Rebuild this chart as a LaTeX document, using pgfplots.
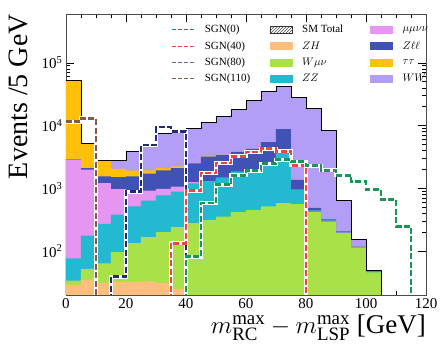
\documentclass[border=0pt]{standalone}
\usepackage{fontspec}
\setmainfont{Liberation Serif}
\usepackage{pgfplots}
\pgfplotsset{compat=1.18}
\usepackage{pgfplotstable}
\usetikzlibrary{patterns,calc}

\definecolor{cZH}{RGB}{255,190,125}
\definecolor{cW}{RGB}{168,226,72}
\definecolor{cZZ}{RGB}{35,185,208}
\definecolor{cMM}{RGB}{228,150,240}
\definecolor{cZL}{RGB}{64,82,182}
\definecolor{cTT}{RGB}{255,192,10}
\definecolor{cWW}{RGB}{178,158,245}
\definecolor{cS0}{RGB}{25,150,85}
\definecolor{cS40}{RGB}{245,65,65}
\definecolor{cS80}{RGB}{35,40,125}
\definecolor{cS110}{RGB}{130,90,72}

\newcommand{\la}[1]{\makebox[63pt][l]{#1}}
\newcommand{\lb}[1]{\makebox[66pt][l]{#1}}

% cumulative stacks (bottom to top): ZH, W, ZZ, mumununu, Zll, tautau, WW(=total)
\pgfplotstableread{
x   zh  w    zz    mm    zl    tt     tot
0   29  34   77    2860  2900  52000  52000
5   35  52   176   1980  2100  5200   5200
10  31  64   272   1215  1550  2740   2780
15  32  96   380   975   1510  2040   2790
20  32  134  515   915   1550  1910   3870
25  33  167  640   920   1710  1930   5140
30  31  200  770   985   1930  2110   7400
35  25  241  890   1070  2110  2240   8100
40  1   280  1200  1260  2500  2530   9150
45  1   316  1260  1290  3210  3240   11400
50  1   356  1460  1480  3400  3420   13900
55  1   418  1820  1840  3800  3800   17900
60  1   456  1980  2000  4270  4270   25100
65  1   515  2530  2550  5450  5450   35000
70  1   583  3700  3720  8800  8800   42000
75  1   563  950   955   1370  1370   28500
80  1   420  440   442   490   490    18600
85  1   295  305   306   320   320    8300
90  1   194  198   199   206   206    650
95  1   114  116   117   118   118    155
100 1   46   47    47    49    49     50
105 1   1    1     1     1     1      1
}\bkg

\pgfplotstableread{
x y
40 1
40 82
45 583
50 1140
55 1620
60 1910
65 2470
70 2860
75 2650
80 2290
85 1950
90 1620
95 1290
100 950
105 658
110 250
115 1
}\sgnA

\pgfplotstableread{
x y
35 1
35 134
40 915
45 1760
50 2530
55 3240
60 3800
65 4270
70 3900
75 2320
80 1
}\sgnB

\pgfplotstableread{
x y
15 1
15 39
20 890
25 4900
30 9500
35 8100
40 1
}\sgnC

\pgfplotstableread{
x y
0 11500
5 13000
10 1
}\sgnD

\begin{document}
\begin{tikzpicture}
\begin{axis}[
  scale only axis, width=360pt, height=281pt,
  xmin=0, xmax=120, ymode=log, ymin=20, ymax=6e5,
  xtick={0,20,...,120}, minor x tick num=3,
  ytick={100,1000,10000,100000},
  yticklabels={10\textsuperscript{2},10\textsuperscript{3},10\textsuperscript{4},10\textsuperscript{5}},
  xtick pos=both, ytick pos=both, tick align=inside,
  major tick length=8pt, minor tick length=4pt,
  tick style={black, line width=0.6pt},
  axis line style={black!70, line width=0.8pt},
  tick label style={font=\fontsize{15}{15}\selectfont},
  xticklabel style={/pgf/number format/assume math mode=true},
  xlabel={\fontsize{27}{30}\selectfont $m_{\mathrm{RC}}^{\mathrm{max}}-m_{\mathrm{LSP}}^{\mathrm{max}}$ [GeV]},
  xlabel style={at={(axis description cs:1,0)}, anchor=north east, yshift=-20pt, inner sep=0pt},
  ylabel={\fontsize{28}{30}\selectfont Events /5 GeV},
  ylabel style={at={(axis description cs:-0.105,1)}, anchor=south east, rotate=0, inner sep=0pt},
  legend columns=3,
  legend cell align=left,
  legend style={at={(rel axis cs:0.285,0.975)}, anchor=north west, draw=none, fill=none,
    font=\fontsize{11}{13}\selectfont, row sep=3.2pt,
    /tikz/every odd column/.append style={column sep=8pt},
    /tikz/every even column/.append style={column sep=0pt}},
]
% stacked histogram (drawn as cumulative layers)
\addplot[forget plot, ybar interval, fill=cWW, draw=none] table[x=x,y=tot]{\bkg};
\addplot[forget plot, ybar interval, fill=cTT, draw=none] table[x=x,y=tt]{\bkg};
\addplot[forget plot, ybar interval, fill=cZL, draw=none] table[x=x,y=zl]{\bkg};
\addplot[forget plot, ybar interval, fill=cMM, draw=none] table[x=x,y=mm]{\bkg};
\addplot[forget plot, ybar interval, fill=cZZ, draw=none] table[x=x,y=zz]{\bkg};
\addplot[forget plot, ybar interval, fill=cW, draw=none] table[x=x,y=w]{\bkg};
\addplot[forget plot, ybar interval, fill=cZH, draw=none] table[x=x,y=zh]{\bkg};
% SM total outline
\addplot[forget plot, const plot, black, line width=0.9pt] table[x=x,y=tot]{\bkg};
% signals
\addplot[forget plot, const plot, white, line width=4pt] table{\sgnD};
\addplot[forget plot, const plot, cS110, line width=2.8pt, dash pattern=on 6pt off 2.5pt] table{\sgnD};
\addplot[forget plot, const plot, white, line width=4pt] table{\sgnC};
\addplot[forget plot, const plot, cS80, line width=2.8pt, dash pattern=on 6pt off 2.5pt] table{\sgnC};
\addplot[forget plot, const plot, white, line width=4pt] table{\sgnB};
\addplot[forget plot, const plot, cS40, line width=2.8pt, dash pattern=on 6pt off 2.5pt] table{\sgnB};
\addplot[forget plot, const plot, white, line width=4pt] table{\sgnA};
\addplot[forget plot, const plot, cS0, line width=2.8pt, dash pattern=on 6pt off 2.5pt] table{\sgnA};

% legend (row-major order)
\addlegendimage{legend image code/.code={\draw[cS0,line width=1pt,dash pattern=on 4pt off 2pt] (0pt,0pt) -- (22pt,0pt);}}
\addlegendentry{\la{SGN(0)}}
\addlegendimage{legend image code/.code={\draw[black!80,pattern=north east lines,pattern color=black!70] (0pt,-3.5pt) rectangle (22pt,3.5pt);}}
\addlegendentry{\lb{SM Total}}
\addlegendimage{legend image code/.code={\fill[cMM] (0pt,-3.5pt) rectangle (22pt,3.5pt);}}
\addlegendentry{$\mu\mu\nu\nu$}
\addlegendimage{legend image code/.code={\draw[cS40,line width=1pt,dash pattern=on 4pt off 2pt] (0pt,0pt) -- (22pt,0pt);}}
\addlegendentry{\la{SGN(40)}}
\addlegendimage{legend image code/.code={\fill[cZH] (0pt,-3.5pt) rectangle (22pt,3.5pt);}}
\addlegendentry{\lb{$ZH$}}
\addlegendimage{legend image code/.code={\fill[cZL] (0pt,-3.5pt) rectangle (22pt,3.5pt);}}
\addlegendentry{$Z\ell\ell$}
\addlegendimage{legend image code/.code={\draw[cS80!70!white,line width=1pt,dash pattern=on 4pt off 2pt] (0pt,0pt) -- (22pt,0pt);}}
\addlegendentry{\la{SGN(80)}}
\addlegendimage{legend image code/.code={\fill[cW] (0pt,-3.5pt) rectangle (22pt,3.5pt);}}
\addlegendentry{\lb{$W\mu\nu$}}
\addlegendimage{legend image code/.code={\fill[cTT] (0pt,-3.5pt) rectangle (22pt,3.5pt);}}
\addlegendentry{$\tau\tau$}
\addlegendimage{legend image code/.code={\draw[cS110,line width=1pt,dash pattern=on 4pt off 2pt] (0pt,0pt) -- (22pt,0pt);}}
\addlegendentry{\la{SGN(110)}}
\addlegendimage{legend image code/.code={\fill[cZZ] (0pt,-3.5pt) rectangle (22pt,3.5pt);}}
\addlegendentry{\lb{$ZZ$}}
\addlegendimage{legend image code/.code={\fill[cWW] (0pt,-3.5pt) rectangle (22pt,3.5pt);}}
\addlegendentry{$WW$}
\end{axis}
\pgfresetboundingbox
\path[use as bounding box] ($(current axis.south west)+(-66pt,-57pt)$) rectangle ($(current axis.north east)+(14pt,14pt)$);
\end{tikzpicture}
\end{document}
